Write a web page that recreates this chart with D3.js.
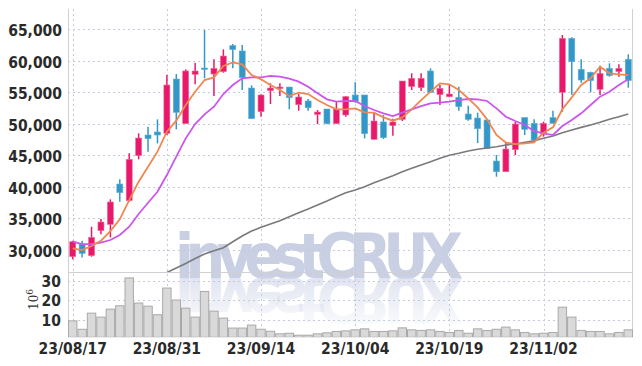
<!DOCTYPE html>
<html>
<head>
<meta charset="utf-8">
<script src="https://cdn.jsdelivr.net/npm/d3@7"></script>
<style>
  html, body { margin: 0; padding: 0; background: #ffffff; }
  svg { display: block; }
  .tick-label { font-family: "Liberation Sans Narrow", "DejaVu Sans Condensed", sans-serif; font-size: 15.5px; fill: #2a2a2a; font-weight: bold; }
</style>
</head>
<body>
<svg id="chart" width="642" height="366"></svg>
<script>
// ---------------- DATA ----------------
const dates = ["23/08/17","23/08/18","23/08/21","23/08/22","23/08/23","23/08/24","23/08/25","23/08/28","23/08/29","23/08/30",
  "23/08/31","23/09/01","23/09/04","23/09/05","23/09/06","23/09/07","23/09/08","23/09/11","23/09/12","23/09/13",
  "23/09/14","23/09/15","23/09/18","23/09/19","23/09/20","23/09/21","23/09/22","23/09/25","23/09/26","23/09/27",
  "23/10/04","23/10/05","23/10/06","23/10/10","23/10/11","23/10/12","23/10/13","23/10/16","23/10/17","23/10/18",
  "23/10/19","23/10/20","23/10/23","23/10/24","23/10/25","23/10/26","23/10/27","23/10/30","23/10/31","23/11/01",
  "23/11/02","23/11/03","23/11/06","23/11/07","23/11/08","23/11/09","23/11/10","23/11/13","23/11/14","23/11/15"];

const openP  = [28940,30940,29100,33060,34060,40450,37810,44940,48210,48690,
  48470,57080,50010,57820,58820,57870,58240,62360,61520,55650,
  51910,55230,55550,55810,53010,53600,51480,52330,50010,51380,
  54550,54550,47520,50270,49690,50690,55870,55710,58350,54600,
  54280,54180,51540,50900,50590,44090,42400,45890,50960,50060,
  48370,50960,54970,63520,58610,58140,55440,58770,58240,60200];
const highP  = [31470,31470,33690,34900,38020,41190,45310,48470,49530,50690,
  57710,57870,58610,59670,64840,60200,61780,62620,62470,56080,
  54650,56390,56390,55810,54700,53910,52170,52330,53600,54390,
  56550,54550,51750,51380,50800,56760,57980,57980,58770,56130,
  56290,55870,52860,51750,50590,45040,47150,50320,50960,50690,
  50320,52060,64050,63680,60200,58240,59190,59560,59400,60990];
const lowP   = [28520,28830,28940,32480,32000,37650,37650,44360,45570,46890,
  48210,49110,50010,56240,57190,54390,58080,58770,55340,50800,
  51110,53120,54390,52280,52060,52060,49950,49900,50010,51110,
  53330,47680,47520,47580,48100,50430,55340,55180,54970,52960,
  54180,52060,50480,46940,46100,41610,42400,45040,48210,47150,
  47950,50060,51910,54550,56500,54970,54550,57450,57450,55710];
const closeP = [31310,29470,32000,34430,37600,39080,44360,47730,47630,48210,
  56130,51800,58350,58350,58660,58770,60720,61730,57290,50800,
  54550,55650,55810,54120,54230,52540,51850,50010,52330,54280,
  53490,48420,50430,47790,50270,56760,57190,57190,54970,55600,
  54700,52700,50690,49210,46100,42400,45990,49950,49110,47420,
  50060,50060,63520,59830,56920,56820,57980,57610,58770,56820];

// moving averages
const ma5  = [30260,29990,30630,31470,33000,34850,37910,40820,43190,45570,
  48740,50480,52960,55070,56920,57340,59140,59720,59400,57710,
  57030,56130,55340,54390,54920,54700,53750,52960,52280,52280,
  52430,51800,51750,51010,50480,51010,52280,53750,55070,56390,
  56240,55340,54020,52590,50690,48210,47000,46780,46890,47050,
  48580,49420,52280,54180,56130,57190,59030,57980,57820,57710];
const ma20 = [31310,30940,30940,31160,31580,32370,33690,35700,37490,39230,
  41870,44780,47680,49950,51480,52700,54700,56130,57190,57340,
  57340,57560,57450,57130,56660,55870,54810,53860,53490,53600,
  53600,52800,52170,51640,51220,51750,52280,52800,53230,53330,
  53490,53750,53910,53860,53600,52430,51110,50430,49790,48840,
  48470,48210,49640,50590,51640,52960,54280,55070,56130,57030];
const ma60 = [null,null,null,null,null,null,null,null,null,null,
  26430,27140,27860,28650,29360,29880,30350,31310,32210,33000,
  33590,34110,34640,35270,35900,36490,37120,37760,38440,39070,
  39500,40020,40660,41190,41770,42400,42940,43460,43980,44520,
  45000,45310,45680,45950,46150,46360,46630,46780,47050,47310,
  47690,48050,48570,49000,49420,49790,50220,50700,51110,51540];

// volume in millions (10^6)
const volume = [9.7,5.5,13.6,11.6,15.6,17.3,31.3,18.7,17.1,12.8,
  26.2,20.2,16.1,11.6,24.5,14.6,11.1,6.1,6.1,7.6,
  5.5,4.5,3.2,3.5,2.5,2.5,3.2,3.7,4.4,4.7,
  5.2,5.7,4.4,4.4,4.7,6.2,5.2,4.9,5.2,4.4,
  3.9,4.9,3.5,5.7,4.9,5.5,6.6,5.2,3.9,3.2,
  3.5,3.9,16.6,11.6,4.9,4.4,4.4,3.2,3.9,5.2];

const priceTicks = [30000,35000,40000,45000,50000,55000,60000,65000];
const volumeTicks = [10,20,30];
const dateTicks = ["23/08/17","23/08/31","23/09/14","23/10/04","23/10/19","23/11/02"];
const watermark = "investCRUX";

// ---------------- LAYOUT ----------------
const L = 68, R = 633, T = 9, SEP = 272, B = 337.3;
const svg = d3.select("#chart");

const x = d3.scaleBand().domain(dates).range([L, R]).padding(0);
const xc = d => x(d) + x.bandwidth() / 2;
const y = d3.scaleLinear().domain([30000, 65000]).range([250, 29]);
const yv = d3.scaleLinear().domain([0, 30]).range([340.2, 280.5]);

const defs = svg.append("defs");
defs.append("clipPath").attr("id", "clipPrice").append("rect")
  .attr("x", L).attr("y", T).attr("width", R - L).attr("height", SEP - T);
defs.append("clipPath").attr("id", "clipVol").append("rect")
  .attr("x", L).attr("y", SEP).attr("width", R - L).attr("height", B - SEP);
const grad = defs.append("linearGradient").attr("id", "refl").attr("x1", 0).attr("y1", 0).attr("x2", 0).attr("y2", 1);
grad.append("stop").attr("offset", "0%").attr("stop-color", "#d3d8ea").attr("stop-opacity", 0.0);
grad.append("stop").attr("offset", "100%").attr("stop-color", "#d3d8ea").attr("stop-opacity", 0.85);
defs.append("text").attr("id", "wmText").attr("x", 175).attr("y", 278)
  .attr("font-family", "Liberation Sans Narrow, DejaVu Sans Condensed, sans-serif")
  .attr("font-weight", "bold").attr("font-size", 62).attr("textLength", 288)
  .text(watermark);

// ---------------- WATERMARK ----------------
const wm = svg.append("g");
wm.append("use").attr("href", "#wmText").attr("fill", "#cad0e3");
wm.append("use").attr("href", "#wmText")
  .attr("transform", "translate(0,556) scale(1,-1)").attr("fill", "url(#refl)");

// ---------------- GRID ----------------
const grid = svg.append("g").attr("stroke", "#c5c9dc").attr("stroke-width", 1).attr("stroke-dasharray", "2,3");
grid.selectAll(".hp").data(priceTicks).join("line")
  .attr("x1", L).attr("x2", R).attr("y1", d => Math.round(y(d)) + 0.5).attr("y2", d => Math.round(y(d)) + 0.5);
grid.selectAll(".hv").data(volumeTicks).join("line")
  .attr("x1", L).attr("x2", R).attr("y1", d => Math.round(yv(d)) + 0.5).attr("y2", d => Math.round(yv(d)) + 0.5);
grid.selectAll(".vg").data(dateTicks).join("line")
  .attr("x1", d => Math.round(xc(d)) + 0.5).attr("x2", d => Math.round(xc(d)) + 0.5)
  .attr("y1", T).attr("y2", B);

// frame
const frame = svg.append("g").attr("stroke", "#cfcfd6").attr("stroke-width", 1);
frame.append("line").attr("x1", L + 0.5).attr("x2", L + 0.5).attr("y1", T).attr("y2", B);
frame.append("line").attr("x1", R - 0.5).attr("x2", R - 0.5).attr("y1", T).attr("y2", B);
frame.append("line").attr("x1", L).attr("x2", R).attr("y1", SEP + 0.5).attr("y2", SEP + 0.5);

// ---------------- VOLUME ----------------
svg.append("g").attr("clip-path", "url(#clipVol)")
  .selectAll("rect").data(dates).join("rect")
  .attr("x", d => x(d) + 0.5).attr("width", x.bandwidth() - 1)
  .attr("y", (d, i) => yv(volume[i])).attr("height", (d, i) => Math.max(0, B - yv(volume[i])))
  .attr("fill", "#d9d9d9").attr("stroke", "#a9a9a9").attr("stroke-width", 1);

// ---------------- CANDLES ----------------
const up = "#e8196b", down = "#3398c8";
const pg = svg.append("g").attr("clip-path", "url(#clipPrice)");
const cg = pg.append("g");
const bw = 6;
cg.selectAll(".wick").data(dates).join("line")
  .attr("x1", d => xc(d)).attr("x2", d => xc(d))
  .attr("y1", (d, i) => y(highP[i])).attr("y2", (d, i) => y(lowP[i]))
  .attr("stroke", (d, i) => closeP[i] >= openP[i] ? up : down).attr("stroke-width", 1.5);
cg.selectAll(".body").data(dates).join("rect")
  .attr("x", d => xc(d) - bw / 2).attr("width", bw)
  .attr("y", (d, i) => y(Math.max(openP[i], closeP[i])))
  .attr("height", (d, i) => Math.max(1.5, Math.abs(y(openP[i]) - y(closeP[i]))))
  .attr("fill", (d, i) => closeP[i] >= openP[i] ? up : down)
  .attr("stroke", (d, i) => closeP[i] >= openP[i] ? "#f06b9a" : "#5fb0d8").attr("stroke-width", 0.6);

// ---------------- MOVING AVERAGES ----------------
const line = arr => d3.line().defined((d, i) => arr[i] != null)
  .x(d => xc(d)).y((d, i) => y(arr[i]))(dates);
pg.append("path").attr("d", line(ma60)).attr("fill", "none").attr("stroke", "#7a7a7a").attr("stroke-width", 1.6);
pg.append("path").attr("d", line(ma20)).attr("fill", "none").attr("stroke", "#cc55ee").attr("stroke-width", 1.8);
pg.append("path").attr("d", line(ma5)).attr("fill", "none").attr("stroke", "#f0874f").attr("stroke-width", 1.8);

// ---------------- AXES LABELS ----------------
const fmt = d3.format(",");
svg.append("g").selectAll("text").data(priceTicks).join("text")
  .attr("class", "tick-label").attr("text-anchor", "end")
  .attr("x", 62).attr("y", d => y(d) + 7).text(d => fmt(d));
svg.append("g").selectAll("text").data(volumeTicks).join("text")
  .attr("class", "tick-label").attr("text-anchor", "end")
  .attr("x", 61).attr("y", d => yv(d) + 6).text(d => d);
svg.append("g").selectAll("text").data(dateTicks).join("text")
  .attr("class", "tick-label").attr("text-anchor", "middle")
  .attr("x", d => xc(d)).attr("y", 354).text(d => d);

// 10^6 unit label
const unit = svg.append("text").attr("transform", "translate(38,310) rotate(-90)")
  .attr("font-family", "DejaVu Serif, serif").attr("font-size", 12).attr("fill", "#333");
unit.append("tspan").text("10");
unit.append("tspan").attr("dy", -5).attr("font-size", 9).text("6");
</script>
</body>
</html>
